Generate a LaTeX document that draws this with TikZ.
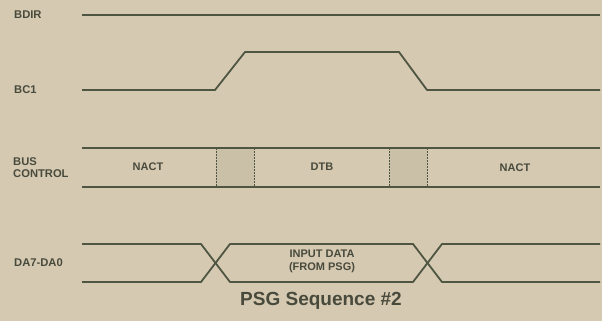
\documentclass[tikz,border=0pt]{standalone}
\usepackage{fontspec}
\setmainfont{Liberation Sans}
\definecolor{bg}{RGB}{214,201,178}
\definecolor{wave}{RGB}{78,86,66}
\definecolor{txt}{RGB}{72,74,60}
\definecolor{boxfill}{RGB}{202,192,168}
\begin{document}
\begin{tikzpicture}[x=1pt,y=-1pt,
  sig/.style={draw=wave,line width=1.8pt,line join=round},
  edge/.style={draw=wave,line width=0.9pt,dash pattern=on 2pt off 1pt},
  lbl/.style={text=txt,font=\bfseries\fontsize{11.2}{12.5}\selectfont,inner sep=0pt,anchor=west,align=left},
  inl/.style={text=txt,font=\bfseries\fontsize{11}{12.5}\selectfont,inner sep=0pt,align=center}]
\fill[bg] (0,0) rectangle (602,321);
\useasboundingbox (0,0) rectangle (602,321);
% labels
\node[lbl] (bdir) at (14,15) {BDIR};
\node[lbl] (bc1) at (14,90) {BC1};
\node[lbl] (bus) at (13,167.5) {BUS\\CONTROL};
\node[lbl] (da) at (14,263) {DA7-DA0};
% BDIR
\draw[sig] (82,15) -- (600,15);
% BC1
\draw[sig] (82,90) -- (215,90) -- (245,52) -- (399,52) -- (427,90) -- (600,90);
% BUS CONTROL
\fill[boxfill] (216,148) rectangle (254,187);
\fill[boxfill] (389,148) rectangle (427,187);
\draw[edge] (216,148) -- (216,187);
\draw[edge] (254,148) -- (254,187);
\draw[edge] (389,148) -- (389,187);
\draw[edge] (427,148) -- (427,187);
\draw[sig] (82,148) -- (600,148);
\draw[sig] (82,187) -- (600,187);
\node[inl] (nact1) at (148,167) {NACT};
\node[inl] (dtb) at (322,167) {DTB};
\node[inl] (nact2) at (515,168) {NACT};
% DA7-DA0
\draw[sig] (82,244) -- (201,244) -- (230,282) -- (413,282) -- (442,244) -- (600,244);
\draw[sig] (82,282) -- (201,282) -- (230,244) -- (413,244) -- (442,282) -- (600,282);
\node[inl] (data) at (322,261.5) {INPUT DATA\\(FROM PSG)};
% title
\node[text=txt,font=\bfseries\fontsize{19}{21}\selectfont,inner sep=0pt] (title) at (321,300.5) {PSG Sequence \#2};
\end{tikzpicture}
\end{document}
